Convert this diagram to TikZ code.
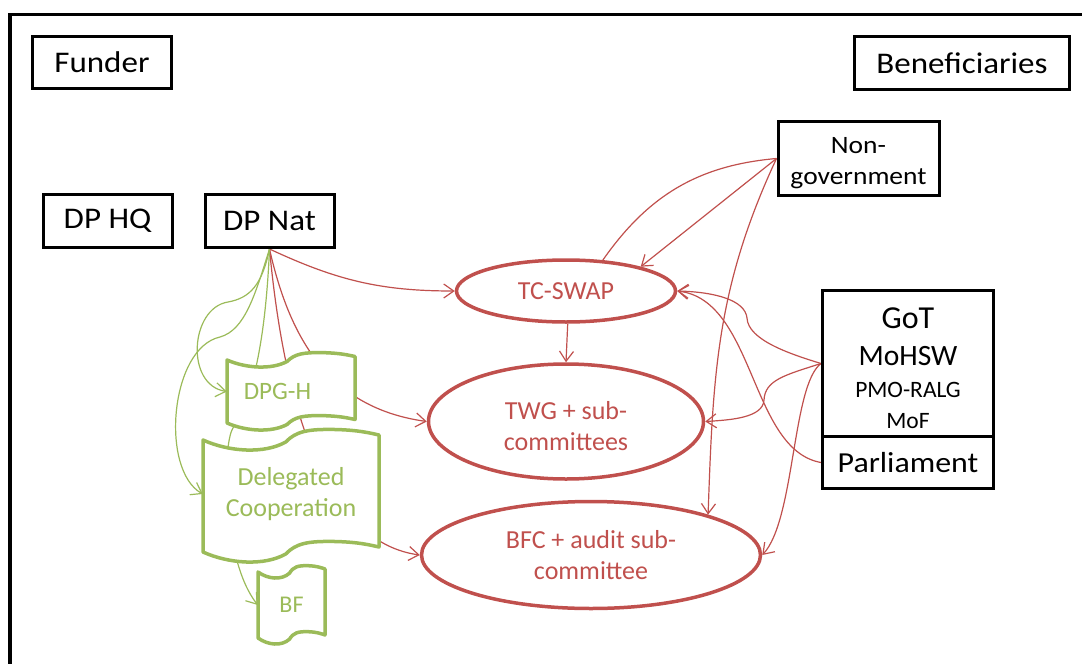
\documentclass[tikz,border=0pt]{standalone}
\usepackage{fontspec}
\setmainfont{Carlito}
\newfontfamily\wideface[FakeStretch=1.1]{Carlito}
\usetikzlibrary{shapes.geometric,arrows.meta}
\definecolor{accred}{HTML}{C0504D}
\definecolor{accgreen}{HTML}{9BBB59}
\pgfdeclarelayer{bg}
\pgfsetlayers{bg,main}
\newcommand{\tapeshape}[5]{%
  \begin{scope}[shift={(#1,#2)}]
  \filldraw[tapeline] (0,0) .. controls ({0.15*#3},{1.2*#5}) and ({0.35*#3},{1.4*#5}) .. ({0.47*#3},{0.2*#5})
    .. controls ({0.53*#3},{-0.9*#5}) and ({0.6*#3},{-1.1*#5}) .. ({0.75*#3},{-1.05*#5})
    .. controls ({0.88*#3},{-1*#5}) and ({0.95*#3},{-0.7*#5}) .. (#3,{-0.5*#5})
    -- (#3,{#4-0.5*#5})
    .. controls ({0.95*#3},{#4-0.7*#5}) and ({0.88*#3},{#4-1*#5}) .. ({0.75*#3},{#4-1.05*#5})
    .. controls ({0.6*#3},{#4-1.1*#5}) and ({0.53*#3},{#4-0.9*#5}) .. ({0.47*#3},{#4+0.2*#5})
    .. controls ({0.35*#3},{#4+1.4*#5}) and ({0.15*#3},{#4+1.2*#5}) .. (0,#4) -- cycle;
  \end{scope}}

\begin{document}
\begin{tikzpicture}[x=1pt,y=-1pt,
  >={Straight Barb[length=10pt,width=14pt]},
  blackbox/.style={draw,line width=3pt,inner sep=0pt,font=\wideface\fontsize{30}{36}\selectfont},
  redoval/.style={ellipse,draw=accred,line width=3.5pt,inner sep=0pt,text=accred,align=center,
    font=\fontsize{26}{31}\selectfont},
  tapeline/.style={draw=accgreen,fill=white,line width=3.5pt,line join=round},
  tapetext/.style={inner sep=0pt,text=accgreen,align=center,font=\fontsize{25}{31}\selectfont},
  redline/.style={accred,line width=1.2pt},
  greenline/.style={accgreen,line width=1.2pt}]
  \useasboundingbox (0,0) rectangle (1082,664);
  \draw[line width=3.5pt] (1082,14.5) -- (10,14.5) -- (10,664);

  \node[blackbox, minimum width=139, minimum height=52] (funder) at (102,62.5) {Funder};
  \node[blackbox, minimum width=215, minimum height=53] (benef) at (962,63) {Beneficiaries};
  \node[blackbox, minimum width=129, minimum height=53] (dphq) at (107.5,221) {DP HQ};
  \node[blackbox, minimum width=129, minimum height=53] (dpnat) at (269.5,221) {DP Nat};
  \node[blackbox, align=center, font=\wideface\fontsize{25}{31}\selectfont,
    minimum width=161, minimum height=74] (nongov) at (858.5,158.5) {\rule{0pt}{26pt}Non-\\government};
  \node[blackbox, align=center, font=\fontsize{23.5}{31}\selectfont,
    minimum width=171, minimum height=146] (got) at (908,363.5)
    {\rule{0pt}{30pt}{\fontsize{32}{38}\selectfont GoT}\\[6pt]{\fontsize{29.5}{35}\selectfont MoHSW}\\[1pt]PMO-RALG\\MoF};
  \node[blackbox, font=\wideface\fontsize{29}{35}\selectfont,
    minimum width=171, minimum height=52] (parl) at (908,462.5) {Parliament};

  \node[redoval, minimum width=219, minimum height=62] (tcswap) at (566,291) {TC-SWAP};
  \node[redoval, minimum width=275, minimum height=115] (twg) at (566,421.5)
    {\rule{0pt}{27pt}TWG + sub-\\committees};
  \node[redoval, minimum width=339, minimum height=107] (bfc) at (591,555) {BFC + audit sub-\\committee};

  \tapeshape{227}{360}{128}{63}{7}
  \node[tapetext, minimum width=128, minimum height=63] (dpgh) at (291,391.5) {DPG-H\hspace*{27pt}};
  \tapeshape{203}{440}{176}{112}{10}
  \node[tapetext, font=\fontsize{26}{31}\selectfont, minimum width=176, minimum height=112] (dc) at (291,494)
    {Delegated\\Cooperation};
  \tapeshape{258}{572}{67}{66}{6}
  \node[tapetext, font=\fontsize{24}{30}\selectfont, minimum width=67, minimum height=66] (bf) at (291.5,605) {BF};

  \begin{pgfonlayer}{bg}
  \path[->,redline]
    (dpnat.south) edge[out=-25,in=180] (tcswap.west)
    (tcswap.-87) edge (twg.north)
    (nongov.west) edge (tcswap.18)
    (nongov.west) edge[out=-115,in=88] (bfc.19);
  \path[redline] (nongov.west) edge[out=185,in=55] (tcswap.40);
  \draw[->,redline] (dpnat.south) .. controls (290,340) and (330,408) .. (twg.west);
  \draw[->,redline] (dpnat.south) .. controls (280,360) and (310,540) .. (bfc.west);
  \draw[->,redline] (got.west) .. controls (790,354) and (748,340) .. (747,318)
    .. controls (745,300) and (715,292) .. (tcswap.east);
  \draw[->,redline] (got.west) .. controls (785,375) and (765,380) .. (764,400)
    .. controls (763,418) and (730,420) .. (twg.east);
  \draw[->,redline] (got.west) .. controls (792,385) and (795,520) .. (bfc.east);
  \draw[->,redline] (parl.west) .. controls (750,450) and (755,300) .. (tcswap.east);
  \draw[->,greenline] (dpnat.south) .. controls (262,285) and (250,298) .. (228,302)
    .. controls (190,308) and (185,385) .. (dpgh.west);
  \draw[->,greenline] (dpnat.south) .. controls (255,295) and (245,330) .. (220,337)
    .. controls (170,348) and (160,470) .. (dc.west);
  \draw[->,greenline] (dpnat.south) .. controls (266,330) and (255,395) .. (233,428)
    .. controls (222,445) and (222,560) .. (bf.west);
  \end{pgfonlayer}
\end{tikzpicture}
\end{document}
